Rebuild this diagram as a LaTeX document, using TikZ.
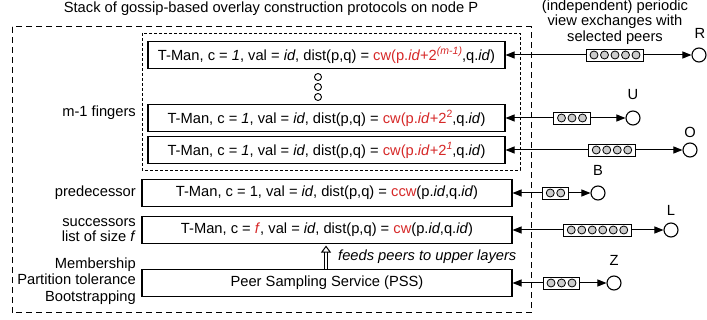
\documentclass[tikz,border=0pt]{standalone}
\usepackage{fontspec}
\setmainfont{Liberation Sans}
\usetikzlibrary{arrows.meta,calc}
\definecolor{myred}{RGB}{214,40,40}
\definecolor{dotgray}{RGB}{205,205,205}
\newcommand{\rd}[1]{\textcolor{myred}{#1}}
\newcommand{\supr}[1]{\raisebox{6pt}{\fontsize{10.5}{10.5}\selectfont #1}}
\newcommand{\circbox}[4]{%
  \pgfmathsetmacro\cbw{10.5*#4+5}%
  \node[cbox, minimum width=\cbw pt] (#1) at (#2,#3) {};
  \foreach \i in {1,...,#4} {
    \node[cdot] (#1-\i) at ({#2-10.5*(#4+1)/2+10.5*\i},#3) {};
  }%
}
\begin{document}
\begin{tikzpicture}[x=1pt,y=-1pt,
  font=\fontsize{14.7}{15.5}\selectfont,
  layer/.style={draw, line width=1.1pt, minimum height=27pt, inner sep=0pt},
  cbox/.style={draw, line width=0.9pt, fill=white, minimum height=12pt, inner sep=0pt},
  cdot/.style={circle, draw, line width=0.8pt, fill=dotgray, minimum size=8pt, inner sep=0pt},
  vdot/.style={circle, draw, line width=0.9pt, fill=white, minimum size=7pt, inner sep=0pt},
  peer/.style={circle, draw, line width=1.1pt, fill=white, minimum size=14pt, inner sep=0pt},
  conn/.style={line width=1pt, -{Triangle[length=9pt,width=7pt]}},
  outerbox/.style={draw, line width=1pt, dash pattern=on 6pt off 4pt},
  innerbox/.style={draw, line width=0.9pt, dash pattern=on 3pt off 2pt},
  lbl/.style={inner sep=0pt, align=right, anchor=east}
]
\useasboundingbox (0,0) rectangle (707,320);

% dashed containers
\draw[outerbox] (12,27) rectangle (531,313);
\draw[innerbox] (142,33) rectangle (520,170);

% title texts
\node[inner sep=0pt] (title) at (271,9) {Stack of gossip-based overlay construction protocols on node P};
\node[inner sep=0pt, align=center] (exch) at (615,22) {(independent) periodic\\view exchanges with\\selected peers};

% layers
\node[layer, minimum width=357pt] (f1) at (326.5,55) {T-Man, c = \textit{1}, val = \textit{id}, dist(p,q) = \rd{cw(p.\textit{id}+2\supr{\textit{(m-1)}}},q.\textit{id})};
\node[vdot] (d1) at (318,77) {};
\node[vdot] (d2) at (318,87) {};
\node[vdot] (d3) at (318,97) {};
\node[layer, minimum width=357pt] (f2) at (326.5,118) {T-Man, c = \textit{1}, val = \textit{id}, dist(p,q) = \rd{cw(p.\textit{id}+2\supr{2}},q.\textit{id})};
\node[layer, minimum width=357pt] (f3) at (326.5,150) {T-Man, c = \textit{1}, val = \textit{id}, dist(p,q) = \rd{cw(p.\textit{id}+2\supr{\textit{1}}},q.\textit{id})};
\node[layer, minimum width=370pt] (pred) at (327,193) {T-Man, c = 1, val = \textit{id}, dist(p,q) = \rd{ccw}(p.\textit{id},q.\textit{id})};
\node[layer, minimum width=370pt] (succ) at (327,230) {T-Man, c = \rd{\textit{f}}, val = \textit{id}, dist(p,q) = \rd{cw}(p.\textit{id},q.\textit{id})};
\node[layer, minimum width=370pt] (pss) at (327,283) {Peer Sampling Service (PSS)};

% left labels
\node[lbl] (lf) at (136,113) {m-1 fingers};
\node[lbl] (lp) at (136,193) {predecessor};
\node[lbl] (ls) at (136,230) {successors\\list of size \textit{f}};
\node[lbl, font=\fontsize{14.7}{16.5}\selectfont] (lm) at (136,281) {Membership\\Partition tolerance\\Bootstrapping};

% feeds arrow
\draw[line width=0.8pt, double distance=2.2pt, -{Triangle[open,length=7pt,width=10pt,line width=1pt]}]
  ($(pss.north)+(-1,0)$) -- ($(succ.south)+(-1,1.5)$);
\node[inner sep=0pt, anchor=west, font=\fontsize{14.7}{15.5}\selectfont\itshape] (feeds) at (338,257) {feeds peers to upper layers};

% circle boxes
\circbox{c1}{615}{55}{5}
\circbox{c2}{572}{118}{3}
\circbox{c3}{612}{150}{4}
\circbox{c4}{555.5}{193}{2}
\circbox{c5}{597.5}{230}{6}
\circbox{c6}{561.5}{283}{3}

% peers
\node[peer] (R) at (699,55) {};
\node[peer] (U) at (633,118) {};
\node[peer] (O) at (690,150) {};
\node[peer] (B) at (598,193) {};
\node[peer] (L) at (671,230) {};
\node[peer] (Z) at (614,283) {};
\node[inner sep=0pt] (Rl) at (700,33) {R};
\node[inner sep=0pt] (Ul) at (633,95) {U};
\node[inner sep=0pt] (Ol) at (690,132) {O};
\node[inner sep=0pt] (Bl) at (598,170) {B};
\node[inner sep=0pt] (Ll) at (671,210) {L};
\node[inner sep=0pt] (Zl) at (614,260) {Z};

% connectors
\draw[conn] (c1.west) -- (f1.east);
\draw[conn] (c1.east) -- (R.west);
\draw[conn] (c2.west) -- (f2.east);
\draw[conn] (c2.east) -- (U.west);
\draw[conn] (c3.west) -- (f3.east);
\draw[conn] (c3.east) -- (O.west);
\draw[conn] (c4.west) -- (pred.east);
\draw[conn] (c4.east) -- (B.west);
\draw[conn] (c5.west) -- (succ.east);
\draw[conn] (c5.east) -- (L.west);
\draw[conn] (c6.west) -- (pss.east);
\draw[conn] (c6.east) -- (Z.west);
\end{tikzpicture}
\end{document}
